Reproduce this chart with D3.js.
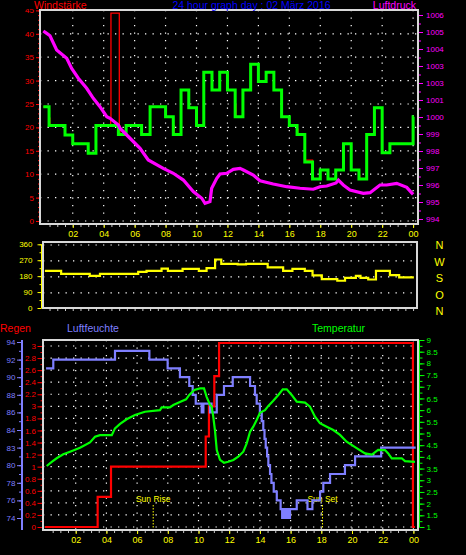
<!DOCTYPE html>
<html><head><meta charset="utf-8">
<script src="https://cdn.jsdelivr.net/npm/d3@7"></script>
<style>html,body{margin:0;padding:0;background:#000;}svg{display:block;}</style>
</head><body><svg id="c" width="466" height="555"></svg>
<script>
// ---------- data ----------
const hourTickValues = [2,4,6,8,10,12,14,16,18,20,22,24];
const hourLabels = ["02","04","06","08","10","12","14","16","18","20","22","00"];

const windTickValues = [0,5,10,15,20,25,30,35,40,45];
const windTickLabels = ["0","5","10","15","20","25","30","35","40","45"];
const pressTickValues = [994,995,996,997,998,999,1000,1001,1002,1003,1004,1005,1006];
const pressTickLabels = ["994","995","996","997","998","999","1000","1001","1003","1003","1004","1005","1006"];
const dirTickValues = [0,90,180,270,360];
const dirTickLabels = ["0","90","180","270","360"];
const dirLetters = ["N","O","S","W","N"];
const rainTickValues = [0,0.2,0.4,0.6,0.8,1,1.2,1.4,1.6,1.8,2,2.2,2.4,2.6,2.8,3];
const rainTickLabels = ["0","0.2","0.4","0.6","0.8","1","1.2","1.4","1.6","1.8","3","2.2","2.4","2.6","2.8","3"];
const humTickValues = [74,76,78,80,82,84,86,88,90,92,94];
const humTickLabels = ["74","76","78","80","83","84","86","88","90","92","94"];
const tempTickValues = [1,1.5,2,2.5,3,3.5,4,4.5,5,5.5,6,6.5,7,7.5,8,8.5,9];
const tempTickLabels = ["1","1.5","2","2.5","3","3.5","4","4.5","5","5.5","6","6.5","7","7.5","8","8.5","9"];

// wind speed (average), step series: hour, km/h
const windTimes  = [0.1,0.47,1.5,2.0,3.0,3.5,4.95,5.45,6.45,7.0,8.0,8.5,9.0,9.5,10.0,10.47,11.0,11.5,12.0,12.5,13.0,13.5,14.0,14.5,15.0,15.5,16.0,16.5,17.0,17.5,18.0,18.5,19.0,19.5,20.0,20.5,21.0,21.5,22.0,22.5,24.0,24.05];
const windValues = [24.4,20.4,18.4,16.5,14.5,20.4,18.5,20.4,18.5,24.4,22.3,18.5,28.0,24.2,20.4,31.8,28.0,31.8,28.0,22.3,28.0,33.5,29.8,31.8,28.0,22.3,20.4,18.5,12.6,9.0,10.9,9.0,10.9,16.5,10.9,9.0,18.5,24.2,14.6,16.5,22.3,22.3];
// wind gusts
const gustTimes  = [0.1,0.47,0.52,1.5,2.0,3.0,3.5,4.45,4.47,5.01,5.05,5.45,6.45,7.0,8.0,8.5,8.55,9.0,9.5,10.0,10.47,11.0,11.5,12.0,12.5,12.55,13.0,13.5,14.0,14.5,15.0,15.5,16.0,16.5,16.55,17.0,17.5,18.0,18.5,19.0,19.5,20.0,20.5,20.55,21.0,21.5,22.0,22.5,24.0,24.05];
const gustValues = [24.4,22.0,20.4,18.4,16.5,14.5,20.4,22.0,44.4,20.3,18.5,20.4,18.5,24.4,22.3,20.4,18.5,28.0,24.2,20.4,31.8,28.0,31.8,28.0,24.8,22.3,28.0,33.5,29.8,31.8,28.0,22.3,20.4,19.6,18.5,13.0,9.0,10.9,9.0,10.9,16.5,10.9,9.8,9.0,18.5,24.2,14.6,16.5,22.3,22.3];
// air pressure hPa
const pressTimes  = [0.1,0.32,0.53,0.96,1.61,1.93,2.36,2.9,3.33,3.76,4.2,4.41,4.95,5.05,5.7,6.35,6.88,7.85,8.5,9.15,9.79,10.34,10.55,10.87,10.98,11.31,11.52,11.95,12.38,12.81,13.03,13.67,14.1,14.96,15.83,16.69,17.55,17.98,18.42,19.02,19.17,19.49,19.92,20.78,21.22,21.86,22.29,22.94,23.59,24.0];
const pressValues = [1005.06,1004.92,1004.78,1003.94,1003.45,1002.86,1002.28,1001.69,1001.1,1000.61,1000.02,999.92,999.53,999.34,998.75,998.16,997.47,996.98,996.69,996.29,995.61,995.22,994.92,995.02,995.81,996.39,996.65,996.69,996.92,996.98,996.88,996.59,996.25,996.06,995.9,995.81,995.75,995.9,995.94,996.12,996.29,996.0,995.71,995.51,995.55,996.0,996.0,996.1,995.86,995.45];
// wind direction degrees
const dirTimes  = [0.2,1.25,3.1,3.76,6.23,6.77,7.74,8.15,9.1,10.15,10.65,11.2,11.6,12.66,13.2,14.6,15.6,16.2,17.0,17.5,18.1,19.1,19.6,20.3,20.6,21.1,21.6,22.5,23.1,24.05];
const dirValues = [210,193,182,193,204,210,223,210,221,210,225,274,249,246,249,230,210,221,210,184,163,154,170,182,170,161,210,186,173,173];
// rain mm (cumulative)
const rainTimes  = [0.0,3.43,4.3,10.47,10.68,11.03,11.34,23.97,24.1];
const rainValues = [0,0.5,1.0,1.5,2.0,2.5,3.05,0,0];
// humidity %
const humTimes  = [0.07,0.54,4.56,6.8,7.99,8.79,9.4,9.62,9.82,10.21,10.32,10.75,10.8,10.85,11.19,11.66,12.23,13.36,13.68,13.79,14.0,14.12,14.22,14.3,14.38,14.47,14.55,14.66,14.75,14.9,15.1,15.35,15.45,15.52,15.58,15.66,15.72,15.8,15.86,15.96,16.07,16.4,17.1,17.42,17.92,18.13,18.57,19.54,20.2,21.9,24.15];
const humValues = [91,92,93,92,91,90,89,88,87,86,87,86,87,86,88,89,90,89,88,87,86,85,84,83,82,81,80,79,78,77,76,75,74,75,74,75,74,75,74,75,75,76,75,76,77,78,79,80,81,82,82];
// temperature °C
const tempTimes  = [0.11,0.44,0.76,1.19,1.63,2.28,2.93,3.26,3.58,4.35,4.56,4.89,5.32,5.86,6.51,7.49,7.6,8.14,8.36,8.79,9.19,9.4,9.73,10.1,10.36,10.53,10.75,10.86,10.96,11.07,11.19,11.4,11.66,11.94,12.27,12.59,12.92,13.14,13.36,13.57,13.79,14.0,14.33,14.55,14.87,15.2,15.49,15.75,16.07,16.4,16.94,17.26,17.59,17.91,18.35,18.78,19.22,19.65,20.2,20.85,21.3,21.7,22.15,22.36,22.59,23.24,23.45,24.1];
const tempValues = [3.61,3.79,3.94,4.11,4.22,4.39,4.62,4.86,4.93,4.93,5.22,5.41,5.61,5.79,5.93,6.0,6.12,6.12,6.22,6.35,6.46,6.65,6.86,6.93,6.93,6.57,6.22,6.15,5.72,5.15,4.29,3.87,3.75,3.79,3.87,4.01,4.22,4.58,5.08,5.29,5.58,5.89,6.0,6.18,6.4,6.65,6.89,6.89,6.65,6.36,6.32,6.15,5.72,5.44,5.29,5.15,4.94,4.65,4.42,4.15,4.1,4.3,4.29,4.15,3.94,3.94,3.82,3.79];
const sunEvents = [7.05, 18.08];
const sunLabels = ["Sun Rise", "Sun Set"];

// ---------- setup ----------
const FONT = "'Liberation Sans', Arial, sans-serif";
const C = {red:"#ff0000", green:"#00ff00", mag:"#ff00ff", yel:"#ffff00", blue:"#7f7fff", title:"#0000ff", frame:"#d8d8d8", grid:"#ffffff"};
const svg = d3.select("#c");
svg.append("rect").attr("width",466).attr("height",555).attr("fill","#000");

const xTop  = d3.scaleLinear().domain([0,24]).range([41.8,413.1]);
const yWind = d3.scaleLinear().domain([0,45]).range([221,10.4]);
const yPress= d3.scaleLinear().domain([994,1006]).range([219,15]);
const yDir  = d3.scaleLinear().domain([0,360]).range([308,244.3]);
const xBot  = d3.scaleLinear().domain([0,24]).range([45,413.4]);
const yRain = d3.scaleLinear().domain([0,3]).range([527,346]);
const yHum  = d3.scaleLinear().domain([74,94]).range([518,342]);
const yTemp = d3.scaleLinear().domain([1,9]).range([527,340]);

const P1 = {x0:40, x1:418, y0:10, y1:224};
const P2 = {x0:43, x1:417, y0:242, y1:308};
const P3 = {x0:43, x1:418, y0:340, y1:530};
const halfHours = d3.range(0.5, 24.01, 0.5);

function dotted(g, x1, y1, x2, y2) {
  g.append("line").attr("x1",x1).attr("y1",y1).attr("x2",x2).attr("y2",y2)
    .attr("stroke",C.grid).attr("stroke-width",1.2).attr("stroke-dasharray","1.3,6.2");
}
function styleAxis(g, color, size) {
  g.attr("font-family", FONT).attr("font-size", size || 8);
  g.selectAll(".domain").remove();
  g.selectAll("line").attr("stroke", color);
  g.selectAll("text").attr("fill", color);
  return g;
}
function series(t, v) { return d3.zip(t, v); }

// ---------- panel 1: wind & pressure ----------
const g1 = svg.append("g");
windTickValues.slice(0,9).forEach(v => dotted(g1, P1.x0, yWind(v), P1.x1, yWind(v)));
hourTickValues.forEach(h => dotted(g1, xTop(h), P1.y0, xTop(h), P1.y1));

styleAxis(g1.append("g").attr("transform",`translate(${P1.x0},0)`)
  .call(d3.axisLeft(yWind).tickValues(d3.range(0,46,1)).tickFormat("").tickSize(2).tickSizeOuter(0)), C.red);
styleAxis(g1.append("g").attr("transform",`translate(${P1.x0},0)`)
  .call(d3.axisLeft(yWind).tickValues(windTickValues).tickFormat((d,i)=>windTickLabels[i]).tickSize(4).tickPadding(2).tickSizeOuter(0)), C.red);
styleAxis(g1.append("g").attr("transform",`translate(${P1.x1},0)`)
  .call(d3.axisRight(yPress).tickValues(d3.range(994,1006.01,0.5)).tickFormat("").tickSize(3).tickSizeOuter(0)), C.mag);
styleAxis(g1.append("g").attr("transform",`translate(${P1.x1},0)`)
  .call(d3.axisRight(yPress).tickValues(pressTickValues).tickFormat((d,i)=>pressTickLabels[i]).tickSize(5).tickPadding(3).tickSizeOuter(0)), C.mag);
styleAxis(g1.append("g").attr("transform",`translate(0,${P1.y1})`)
  .call(d3.axisBottom(xTop).tickValues(halfHours).tickFormat("").tickSize(3).tickSizeOuter(0)), "#c8c8c8");
styleAxis(g1.append("g").attr("transform",`translate(0,${P1.y1})`)
  .call(d3.axisBottom(xTop).tickValues(hourTickValues).tickFormat((d,i)=>hourLabels[i]).tickSize(4).tickPadding(3).tickSizeOuter(0)), C.yel, 9);
g1.selectAll("g").filter(function(){return true;});

g1.append("rect").attr("x",P1.x0).attr("y",P1.y0).attr("width",P1.x1-P1.x0).attr("height",P1.y1-P1.y0)
  .attr("fill","none").attr("stroke",C.frame).attr("stroke-width",2);

const lineWind = d3.line().x(d=>xTop(d[0])).y(d=>yWind(d[1])).curve(d3.curveStepAfter);
g1.append("path").datum(series(gustTimes,gustValues)).attr("d",lineWind)
  .attr("fill","none").attr("stroke",C.red).attr("stroke-width",1.3);
g1.append("path").datum(series(windTimes,windValues)).attr("d",lineWind)
  .attr("fill","none").attr("stroke",C.green).attr("stroke-width",3);
const linePress = d3.line().x(d=>xTop(d[0])).y(d=>yPress(d[1]));
g1.append("path").datum(series(pressTimes,pressValues)).attr("d",linePress)
  .attr("fill","none").attr("stroke",C.mag).attr("stroke-width",3.2);

// cover top strip (title area)
svg.append("rect").attr("x",0).attr("y",0).attr("width",40).attr("height",9).attr("fill","#000");
const tf = {"font-family":FONT, "font-size":"10.5px"};
function txt(x,y,s,color,anchor,size){
  return svg.append("text").attr("x",x).attr("y",y).text(s).attr("fill",color)
    .attr("font-family",FONT).attr("font-size",size||10.5).attr("text-anchor",anchor||"start");
}
txt(34, 9.3, "Windstärke", C.red);
txt(251.5, 9.3, "24 hour graph day : 02 März 2016", C.title, "middle");
txt(416, 9.3, "Luftdruck", C.mag, "end");

// ---------- panel 2: wind direction ----------
const g2 = svg.append("g");
dirTickValues.slice(1).forEach(v => dotted(g2, P2.x0, yDir(v)+0.7, P2.x1, yDir(v)+0.7));
g2.append("line").attr("x1",41.5).attr("x2",41.5).attr("y1",yDir(360)).attr("y2",yDir(0)).attr("stroke",C.yel).attr("stroke-width",1);
styleAxis(g2.append("g").attr("transform",`translate(41.5,0)`)
  .call(d3.axisLeft(yDir).tickValues(d3.range(0,361,45)).tickFormat("").tickSize(2).tickSizeOuter(0)), C.yel);
styleAxis(g2.append("g").attr("transform",`translate(41.5,0)`)
  .call(d3.axisLeft(yDir).tickValues(dirTickValues).tickFormat((d,i)=>dirTickLabels[i]).tickSize(4).tickPadding(5).tickSizeOuter(0)), C.yel);
styleAxis(g2.append("g").attr("transform",`translate(0,${P2.y1})`)
  .call(d3.axisBottom(xTop).tickValues(halfHours).tickFormat("").tickSize(3).tickSizeOuter(0)), "#c8c8c8");
g2.append("rect").attr("x",P2.x0).attr("y",P2.y0).attr("width",P2.x1-P2.x0).attr("height",P2.y1-P2.y0)
  .attr("fill","none").attr("stroke",C.frame).attr("stroke-width",2);
const lineDir = d3.line().x(d=>xTop(d[0])).y(d=>yDir(d[1])).curve(d3.curveStepAfter);
g2.append("path").datum(series(dirTimes,dirValues)).attr("d",lineDir)
  .attr("fill","none").attr("stroke",C.yel).attr("stroke-width",2.2);
dirTickValues.forEach((v,i)=>{
  svg.append("text").attr("x",439.5).attr("y",yDir(v)+1+ (360-v)/360*2.5).attr("dy","0.36em")
    .attr("text-anchor","middle").attr("fill",C.yel).attr("font-family",FONT).attr("font-size",11).text(dirLetters[i]);
});

// ---------- panel 3: rain, humidity, temperature ----------
const g3 = svg.append("g");
rainTickValues.forEach(v => dotted(g3, P3.x0, yRain(v), P3.x1, yRain(v)));
hourTickValues.forEach(h => dotted(g3, xBot(h), P3.y0, xBot(h), P3.y1));

// humidity axis (far left)
g3.append("line").attr("x1",22).attr("x2",22).attr("y1",P3.y0).attr("y2",P3.y1).attr("stroke",C.blue).attr("stroke-width",2);
styleAxis(g3.append("g").attr("transform",`translate(21,0)`)
  .call(d3.axisLeft(yHum).tickValues(d3.range(74,94.1,1)).tickFormat("").tickSize(2).tickSizeOuter(0)), C.blue);
styleAxis(g3.append("g").attr("transform",`translate(21,0)`)
  .call(d3.axisLeft(yHum).tickValues(humTickValues).tickFormat((d,i)=>humTickLabels[i]).tickSize(4).tickPadding(1.5).tickSizeOuter(0)), C.blue);
// rain axis
styleAxis(g3.append("g").attr("transform",`translate(${P3.x0-0.5},0)`)
  .call(d3.axisLeft(yRain).tickValues(d3.range(0,3.01,0.1)).tickFormat("").tickSize(2).tickSizeOuter(0)), C.red);
styleAxis(g3.append("g").attr("transform",`translate(${P3.x0-0.5},0)`)
  .call(d3.axisLeft(yRain).tickValues(rainTickValues).tickFormat((d,i)=>rainTickLabels[i]).tickSize(5).tickPadding(1.5).tickSizeOuter(0)), C.red);
// temperature axis
g3.append("line").attr("x1",419.5).attr("x2",419.5).attr("y1",P3.y0).attr("y2",yTemp(1)).attr("stroke",C.green).attr("stroke-width",1);
styleAxis(g3.append("g").attr("transform",`translate(419.5,0)`)
  .call(d3.axisRight(yTemp).tickValues(d3.range(1,9.01,0.25)).tickFormat("").tickSize(3).tickSizeOuter(0)), C.green);
styleAxis(g3.append("g").attr("transform",`translate(419.5,0)`)
  .call(d3.axisRight(yTemp).tickValues(tempTickValues).tickFormat((d,i)=>tempTickLabels[i]).tickSize(5).tickPadding(2).tickSizeOuter(0)), C.green);
// time axis
styleAxis(g3.append("g").attr("transform",`translate(0,${P3.y1})`)
  .call(d3.axisBottom(xBot).tickValues(halfHours).tickFormat("").tickSize(3).tickSizeOuter(0)), "#c8c8c8");
styleAxis(g3.append("g").attr("transform",`translate(0,${P3.y1})`)
  .call(d3.axisBottom(xBot).tickValues(hourTickValues).tickFormat((d,i)=>hourLabels[i]).tickSize(4).tickPadding(3).tickSizeOuter(0)), C.yel, 9);

g3.append("rect").attr("x",P3.x0).attr("y",P3.y0).attr("width",P3.x1-P3.x0).attr("height",P3.y1-P3.y0)
  .attr("fill","none").attr("stroke",C.frame).attr("stroke-width",2);

// sun rise / set
sunEvents.forEach((h,i)=>{
  g3.append("line").attr("x1",xBot(h)).attr("x2",xBot(h)).attr("y1",505).attr("y2",P3.y1-1)
    .attr("stroke",C.yel).attr("stroke-width",1).attr("stroke-dasharray","1.5,1.5");
  g3.append("text").attr("x",xBot(h)).attr("y",501.5).attr("text-anchor","middle")
    .attr("fill",C.yel).attr("font-family",FONT).attr("font-size",8.5).text(sunLabels[i]);
});

const lineRain = d3.line().x(d=>xBot(d[0])).y(d=>yRain(d[1])).curve(d3.curveStepAfter);
g3.append("path").datum(series(rainTimes,rainValues)).attr("d",lineRain)
  .attr("fill","none").attr("stroke",C.red).attr("stroke-width",2.2);
const lineHum = d3.line().x(d=>xBot(d[0])).y(d=>yHum(d[1])).curve(d3.curveStepAfter);
g3.append("path").datum(series(humTimes,humValues)).attr("d",lineHum)
  .attr("fill","none").attr("stroke",C.blue).attr("stroke-width",2.2);
const lineTemp = d3.line().x(d=>xBot(d[0])).y(d=>yTemp(d[1]));
g3.append("path").datum(series(tempTimes,tempValues)).attr("d",lineTemp)
  .attr("fill","none").attr("stroke",C.green).attr("stroke-width",2.2);

txt(0, 331.5, "Regen", C.red);
txt(67, 331.5, "Luftfeuchte", C.blue);
txt(312, 331.5, "Temperatur", C.green);
</script></body></html>
